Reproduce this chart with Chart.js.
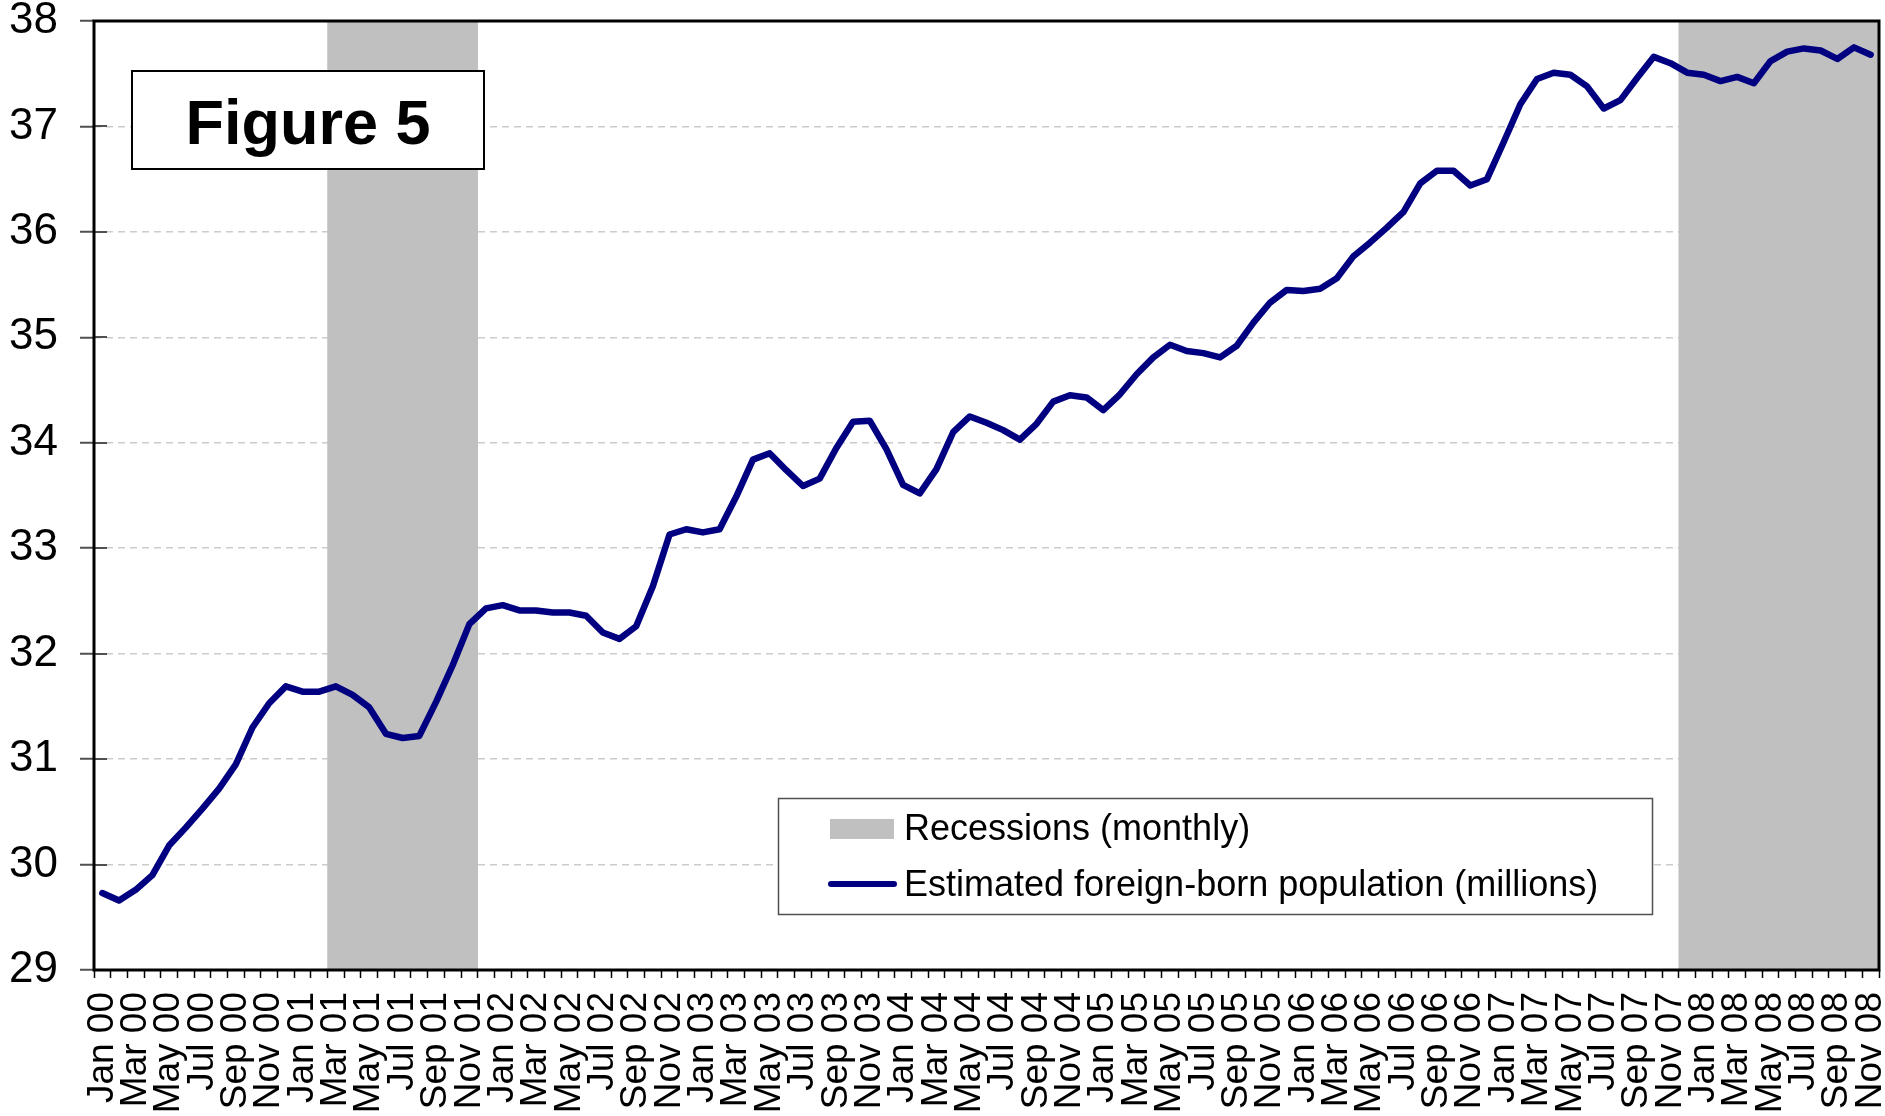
<!DOCTYPE html>
<html>
<head>
<meta charset="utf-8">
<script src="https://cdn.jsdelivr.net/npm/chart.js@4/dist/chart.umd.min.js"></script>
<style>
  html, body { margin: 0; padding: 0; background: #ffffff; }
  #wrap { position: relative; width: 1885px; height: 1116px; }
</style>
</head>
<body>
<div id="wrap"><canvas id="c" width="1885" height="1116"></canvas></div>
<script>
// ---------- DATA ----------
const monthNames = ['Jan','Feb','Mar','Apr','May','Jun','Jul','Aug','Sep','Oct','Nov','Dec'];
const yearLabels = ['00','01','02','03','04','05','06','07','08'];
// Monthly categories Jan 00 .. Nov 08
const categories = yearLabels.flatMap(y => monthNames.map(m => m + ' ' + y)).slice(0, 107);

// Estimated foreign-born population (millions), Jan 2000 - Nov 2008
const foreignBorn = [
  29.73, 29.66, 29.76, 29.90, 30.18, 30.35, 30.53, 30.72, 30.95, 31.30, 31.53, 31.69,
  31.64, 31.64, 31.69, 31.61, 31.49, 31.24, 31.20, 31.22, 31.54, 31.89, 32.28, 32.43,
  32.46, 32.41, 32.41, 32.39, 32.39, 32.36, 32.20, 32.14, 32.26, 32.64, 33.13, 33.18,
  33.15, 33.18, 33.49, 33.84, 33.90, 33.74, 33.59, 33.66, 33.95, 34.20, 34.21, 33.94,
  33.60, 33.52, 33.75, 34.10, 34.25, 34.19, 34.12, 34.03, 34.18, 34.39, 34.45, 34.43,
  34.31, 34.46, 34.65, 34.81, 34.93, 34.87, 34.85, 34.81, 34.92, 35.14, 35.33, 35.45,
  35.44, 35.46, 35.56, 35.77, 35.90, 36.04, 36.19, 36.46, 36.58, 36.58, 36.44, 36.50,
  36.85, 37.21, 37.45, 37.51, 37.49, 37.38, 37.17, 37.25, 37.46, 37.66, 37.60, 37.51,
  37.49, 37.43, 37.47, 37.41, 37.62, 37.71, 37.74, 37.72, 37.64, 37.75, 37.68
];

// Recession months (shaded)
const recessionMonths = [
  'Mar 01','Apr 01','May 01','Jun 01','Jul 01','Aug 01','Sep 01','Oct 01','Nov 01',
  'Dec 07','Jan 08','Feb 08','Mar 08','Apr 08','May 08','Jun 08','Jul 08','Aug 08','Sep 08','Oct 08','Nov 08'
];

const yMin = 29;
const yMax = 38;
const yStep = 1;

const seriesLabel = 'Estimated foreign-born population (millions)';
const recessionLabel = 'Recessions (monthly)';
const figureTitle = 'Figure 5';

// ---------- STYLE ----------
const FONT = "'Liberation Sans', Arial, Helvetica, sans-serif";
const navy = '#000080';
const shade = '#c0c0c0';

const recessionData = categories.map(c => recessionMonths.includes(c) ? yMax : null);

// ---------- PLUGINS ----------
const framePlugin = {
  id: 'frame',
  afterDraw(chart) {
    const { ctx, chartArea: a, scales } = chart;
    ctx.save();
    // inner halves of the y tick marks (cross ticks)
    ctx.strokeStyle = '#505050';
    ctx.lineWidth = 2;
    for (let v = yMin; v <= yMax; v += yStep) {
      const y = Math.round(scales.y.getPixelForValue(v));
      ctx.beginPath();
      ctx.moveTo(a.left, y);
      ctx.lineTo(a.left + 13, y);
      ctx.stroke();
    }
    // plot frame
    ctx.strokeStyle = '#000000';
    ctx.lineWidth = 3;
    ctx.strokeRect(a.left, a.top, a.right - a.left, a.bottom - a.top);

    // Figure label box
    ctx.fillStyle = '#ffffff';
    ctx.fillRect(132, 71, 352, 98);
    ctx.strokeStyle = '#000000';
    ctx.lineWidth = 2;
    ctx.strokeRect(132, 71, 352, 98);
    ctx.fillStyle = '#000000';
    ctx.font = 'bold 63px ' + FONT;
    ctx.textAlign = 'center';
    ctx.textBaseline = 'alphabetic';
    ctx.fillText(figureTitle, 308, 144);

    // Legend box
    ctx.fillStyle = '#ffffff';
    ctx.fillRect(778, 798, 874, 116);
    ctx.strokeStyle = '#505050';
    ctx.lineWidth = 1.5;
    ctx.strokeRect(778.5, 798.5, 874, 116);

    const ds = chart.data.datasets;
    const barDs = ds.find(d => d.type === 'bar');
    const lineDs = ds.find(d => d.type === 'line');
    ctx.font = '36px ' + FONT;
    ctx.textAlign = 'left';
    // recession swatch
    ctx.fillStyle = barDs.backgroundColor;
    ctx.fillRect(830, 819, 64, 20);
    ctx.fillStyle = '#000000';
    ctx.fillText(barDs.label, 904, 840);
    // line swatch
    ctx.strokeStyle = lineDs.borderColor;
    ctx.lineWidth = 6;
    ctx.lineCap = 'round';
    ctx.beginPath();
    ctx.moveTo(831, 884);
    ctx.lineTo(894, 884);
    ctx.stroke();
    ctx.fillText(lineDs.label, 904, 896);
    ctx.restore();
  }
};

// ---------- CHART ----------
const ctx = document.getElementById('c').getContext('2d');
new Chart(ctx, {
  type: 'bar',
  data: {
    labels: categories,
    datasets: [
      {
        type: 'line',
        label: seriesLabel,
        data: foreignBorn,
        borderColor: navy,
        backgroundColor: navy,
        borderWidth: 6.5,
        pointRadius: 0,
        tension: 0,
        borderJoinStyle: 'round',
        borderCapStyle: 'round',
        fill: false,
        order: 0
      },
      {
        type: 'bar',
        label: recessionLabel,
        data: recessionData,
        backgroundColor: shade,
        borderWidth: 0,
        barPercentage: 1,
        categoryPercentage: 1,
        order: 1
      }
    ]
  },
  options: {
    responsive: false,
    animation: false,
    devicePixelRatio: 1,
    layout: { padding: { left: 0, top: 21, right: 6, bottom: 0 } },
    plugins: {
      legend: { display: false },
      tooltip: { enabled: false },
      title: { display: false }
    },
    scales: {
      x: {
        type: 'category',
        offset: true,
        border: { display: false },
        grid: {
          display: true,
          offset: true,
          drawOnChartArea: false,
          drawTicks: true,
          tickLength: 8,
          tickColor: '#000000',
          tickWidth: 1.5
        },
        ticks: {
          autoSkip: false,
          maxRotation: 90,
          minRotation: 90,
          padding: 14,
          color: '#000000',
          font: { family: FONT, size: 37 },
          callback: (v, i) => (i % 2 === 0 ? categories[i] : '')
        },
        afterFit: s => { s.height = 146; s.paddingLeft = 0; s.paddingRight = 0; }
      },
      y: {
        min: yMin,
        max: yMax,
        border: { display: false, dash: [7, 5] },
        grid: {
          color: c => (c.tick && (c.tick.value === yMin || c.tick.value === yMax)) ? 'rgba(0,0,0,0)' : '#cccccc',
          lineWidth: 1.5,
          tickColor: '#505050',
          tickLength: 14,
          tickWidth: 2,
          tickBorderDash: []
        },
        ticks: {
          stepSize: yStep,
          padding: 22,
          color: '#000000',
          font: { family: FONT, size: 44 }
        },
        afterFit: s => { s.width = 94; s.paddingTop = 0; s.paddingBottom = 0; }
      }
    }
  },
  plugins: [framePlugin]
});
</script>
</body>
</html>
